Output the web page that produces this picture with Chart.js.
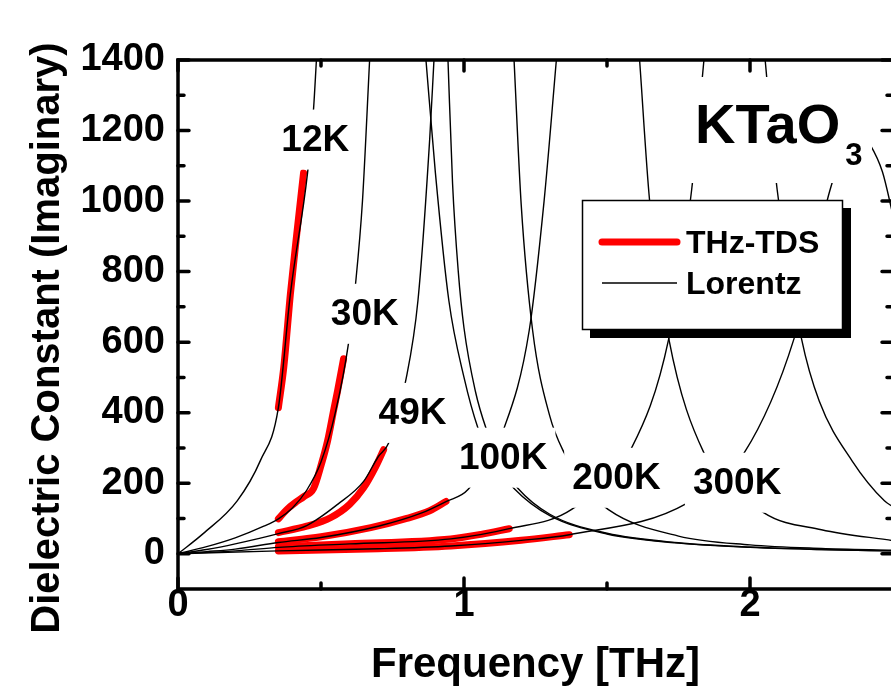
<!DOCTYPE html>
<html>
<head>
<meta charset="utf-8">
<script src="https://cdn.jsdelivr.net/npm/chart.js@4.4.1/dist/chart.umd.min.js"></script>
<style>
  html, body { margin: 0; padding: 0; background: #fff; overflow: hidden; }
  #wrap { width: 900px; height: 688px; }
</style>
</head>
<body>
<div id="wrap"><canvas id="chart" width="900" height="688"></canvas></div>
<script>
const FONT = "'Liberation Sans', Arial, Helvetica, sans-serif";

// axis ticks
const freqTicks = [0, 1, 2];
const freqMinor = [0.5, 1.5, 2.5];
const epsTicks = [0, 200, 400, 600, 800, 1000, 1200, 1400];
const epsMinor = [100, 300, 500, 700, 900, 1100, 1300];

const temps = ['12K', '30K', '49K', '100K', '200K', '300K'];

// THz-TDS measurements: [frequency (THz), eps'']
const tds12K = [[0.351, 414], [0.37, 530], [0.393, 737], [0.415, 905], [0.439, 1080]];
const tds30K = [[0.351, 99], [0.38, 125], [0.41, 145], [0.44, 162], [0.474, 185], [0.5, 250], [0.523, 320], [0.545, 410], [0.558, 462], [0.579, 553]];
const tds49K = [[0.351, 60], [0.45, 78], [0.533, 102], [0.6, 140], [0.649, 187], [0.69, 245], [0.719, 295]];
const tds100K = [[0.351, 34], [0.5, 48], [0.674, 74], [0.8, 100], [0.88, 122], [0.937, 148]];
const tds200K = [[0.351, 20], [0.6, 28], [0.954, 42], [1.06, 55], [1.158, 71]];
const tds300K = [[0.351, 8], [0.7, 14], [0.954, 22], [1.2, 38], [1.368, 54]];

// Lorentz oscillator fits; null where the curve runs above the frame
const lor12K = [[0, 0], [0.088, 57], [0.207, 150], [0.288, 264], [0.351, 414], [0.393, 737], [0.453, 1080], [0.474, 1262], [0.484, 1400], [0.7, null],
  [0.867, 1400], [0.9, 1080], [0.947, 718], [1.0, 500], [1.049, 356], [1.1, 265], [1.175, 185], [1.3, 108], [1.5, 56], [1.75, 30], [2.0, 18], [2.25, 12], [2.5, 8]];
const lor30K = [[0, 0], [0.1, 20], [0.2, 45], [0.3, 78], [0.351, 99], [0.4, 130], [0.45, 180], [0.5, 260], [0.55, 400], [0.596, 596], [0.621, 767], [0.645, 1000], [0.67, 1400], [0.8, null],
  [0.944, 1400], [0.96, 1050], [0.98, 800], [1.0, 640], [1.04, 460], [1.077, 356], [1.13, 255], [1.189, 185], [1.3, 112], [1.5, 58], [1.75, 31], [2.0, 19], [2.25, 12], [2.5, 8]];
const lor49K = [[0, 0], [0.1, 12], [0.2, 28], [0.351, 57], [0.45, 80], [0.558, 140], [0.649, 205], [0.7, 275], [0.737, 315], [0.796, 490], [0.839, 718], [0.88, 1175], [0.895, 1400], [1.0, null],
  [1.175, 1400], [1.2, 990], [1.24, 633], [1.3, 390], [1.351, 285], [1.42, 195], [1.505, 125], [1.75, 50], [2.0, 25], [2.25, 15], [2.5, 10]];
const lor100K = [[0, 0], [0.1, 6], [0.2, 13], [0.351, 32], [0.5, 46], [0.7, 78], [0.85, 115], [0.937, 148], [1.014, 182], [1.14, 356], [1.228, 633], [1.28, 1000], [1.323, 1400], [1.45, null],
  [1.614, 1400], [1.649, 1001], [1.716, 610], [1.839, 286], [2.049, 116], [2.25, 68], [2.5, 37]];
const lor200K = [[0, 0], [0.2, 8], [0.351, 18], [0.6, 28], [0.954, 42], [1.158, 71], [1.375, 125], [1.586, 300], [1.716, 610], [1.796, 1032], [1.839, 1400], [1.95, null],
  [2.053, 1400], [2.095, 1032], [2.18, 610], [2.242, 433], [2.358, 262], [2.47, 150], [2.5, 133]];
const lor300K = [[0, 0], [0.351, 8], [0.7, 14], [0.954, 22], [1.2, 38], [1.368, 54], [1.779, 143], [1.979, 285], [2.154, 610], [2.28, 1032], [2.34, 1170], [2.38, 1200], [2.42, 1160], [2.463, 1083], [2.5, 960]];

const tdsSets = [tds12K, tds30K, tds49K, tds100K, tds200K, tds300K];
const lorSets = [lor12K, lor30K, lor49K, lor100K, lor200K, lor300K];

// where each temperature tag sits, in data units
const tagFreq = [0.48, 0.653, 0.82, 1.137, 1.533, 1.955];
const tagEps = [1180, 686, 405, 278, 221, 207];

const toPoints = arr => arr.map(([x, y]) => ({ x, y }));

const datasets = [];
lorSets.forEach((s, i) => datasets.push({
  label: 'Lorentz ' + temps[i],
  data: toPoints(s),
  borderColor: '#000',
  borderWidth: 1.4,
  pointRadius: 0,
  cubicInterpolationMode: 'monotone',
  spanGaps: false,
  order: 1
}));
tdsSets.forEach((s, i) => datasets.push({
  label: 'THz-TDS ' + temps[i],
  data: toPoints(s),
  borderColor: '#ff0000',
  borderWidth: 7,
  borderCapStyle: 'round',
  borderJoinStyle: 'round',
  pointRadius: 0,
  cubicInterpolationMode: 'monotone',
  order: 2
}));

// temperature tags, material name and legend, each on a white patch
const annotations = {
  id: 'annotations',
  afterDatasetsDraw(chart) {
    const { ctx, scales: { x, y } } = chart;
    ctx.save();
    ctx.font = `bold 37px ${FONT}`;
    ctx.textAlign = 'center';
    ctx.textBaseline = 'alphabetic';
    temps.forEach((t, i) => {
      const px = x.getPixelForValue(tagFreq[i]);
      const py = y.getPixelForValue(tagEps[i]);
      const w = ctx.measureText(t).width;
      ctx.fillStyle = '#fff';
      ctx.fillRect(px - w / 2 - 8, py - 28, w + 16, 60);
      ctx.fillStyle = '#000';
      ctx.fillText(t, px, py + 13);
    });

    // KTaO3
    ctx.fillStyle = '#fff';
    ctx.fillRect(686, 77, 186, 106);
    ctx.fillStyle = '#000';
    ctx.textAlign = 'left';
    ctx.font = `bold 56px ${FONT}`;
    ctx.fillText('KTaO', 695, 143);
    const kw = ctx.measureText('KTaO').width;
    ctx.font = `bold 31px ${FONT}`;
    ctx.fillText('3', 695 + kw + 5, 165);

    // legend box with drop shadow
    ctx.fillStyle = '#000';
    ctx.fillRect(590, 208, 261, 130);
    ctx.fillStyle = '#fff';
    ctx.fillRect(582, 200, 261, 130);
    ctx.strokeStyle = '#000';
    ctx.lineWidth = 1.5;
    ctx.strokeRect(582.5, 200.5, 260, 129);

    ctx.lineCap = 'round';
    ctx.strokeStyle = '#ff0000';
    ctx.lineWidth = 7;
    ctx.beginPath(); ctx.moveTo(602, 242); ctx.lineTo(677, 242); ctx.stroke();
    ctx.lineCap = 'butt';
    ctx.strokeStyle = '#000';
    ctx.lineWidth = 1.4;
    ctx.beginPath(); ctx.moveTo(602, 283); ctx.lineTo(677, 283); ctx.stroke();

    ctx.fillStyle = '#000';
    ctx.font = `bold 32px ${FONT}`;
    ctx.fillText('THz-TDS', 686, 253);
    ctx.fillText('Lorentz', 686, 294);
    ctx.restore();
  }
};

// closed frame with inward ticks on all four sides
const frame = {
  id: 'frame',
  afterDraw(chart) {
    const { ctx, chartArea: a, scales: { x, y } } = chart;
    ctx.save();
    ctx.strokeStyle = '#000';
    ctx.lineWidth = 3.5;
    ctx.lineCap = 'square';
    ctx.strokeRect(a.left, a.top, a.right - a.left, a.bottom - a.top);
    const tick = (vals, len, horiz) => {
      vals.forEach(v => {
        ctx.beginPath();
        if (horiz) {
          const px = x.getPixelForValue(v);
          ctx.moveTo(px, a.bottom); ctx.lineTo(px, a.bottom - len);
          ctx.moveTo(px, a.top); ctx.lineTo(px, a.top + len);
        } else {
          const py = y.getPixelForValue(v);
          ctx.moveTo(a.left, py); ctx.lineTo(a.left + len, py);
          ctx.moveTo(a.right, py); ctx.lineTo(a.right - len, py);
        }
        ctx.stroke();
      });
    };
    ctx.lineCap = 'round';
    tick(freqTicks, 11, true);
    tick(epsTicks, 11, false);
    tick(freqMinor, 6, true);
    tick(epsMinor, 6, false);

    // axis titles
    ctx.fillStyle = '#000';
    ctx.font = `bold 42px ${FONT}`;
    ctx.textAlign = 'center';
    ctx.textBaseline = 'alphabetic';
    ctx.fillText('Frequency [THz]', (a.left + a.right) / 2, 677);
    ctx.font = `bold 40px ${FONT}`;
    ctx.translate(59, 338);
    ctx.rotate(-Math.PI / 2);
    ctx.fillText('Dielectric Constant (Imaginary)', 0, 0);
    ctx.restore();
  }
};

const tickFont = { family: FONT, size: 38, weight: 'bold' };

new Chart(document.getElementById('chart'), {
  type: 'line',
  data: { datasets },
  options: {
    responsive: false,
    animation: false,
    devicePixelRatio: 1,
    layout: { padding: { left: 0, top: 60, right: 7, bottom: 0 } },
    plugins: { legend: { display: false }, tooltip: { enabled: false } },
    scales: {
      x: {
        type: 'linear',
        min: 0,
        max: 2.5,
        grid: { display: false, drawTicks: false },
        border: { display: false },
        afterBuildTicks: s => { s.ticks = freqTicks.map(v => ({ value: v })); },
        afterFit: s => { s.height = 99; },
        ticks: { color: '#000', padding: -6, font: tickFont, callback: v => String(v) }
      },
      y: {
        type: 'linear',
        min: -100,
        max: 1400,
        grid: { display: false, drawTicks: false },
        border: { display: false },
        afterBuildTicks: s => { s.ticks = epsTicks.map(v => ({ value: v })); },
        afterFit: s => { s.width = 178; },
        ticks: { color: '#000', padding: 13, font: tickFont, callback: v => String(v) }
      }
    }
  },
  plugins: [annotations, frame]
});
</script>
</body>
</html>
